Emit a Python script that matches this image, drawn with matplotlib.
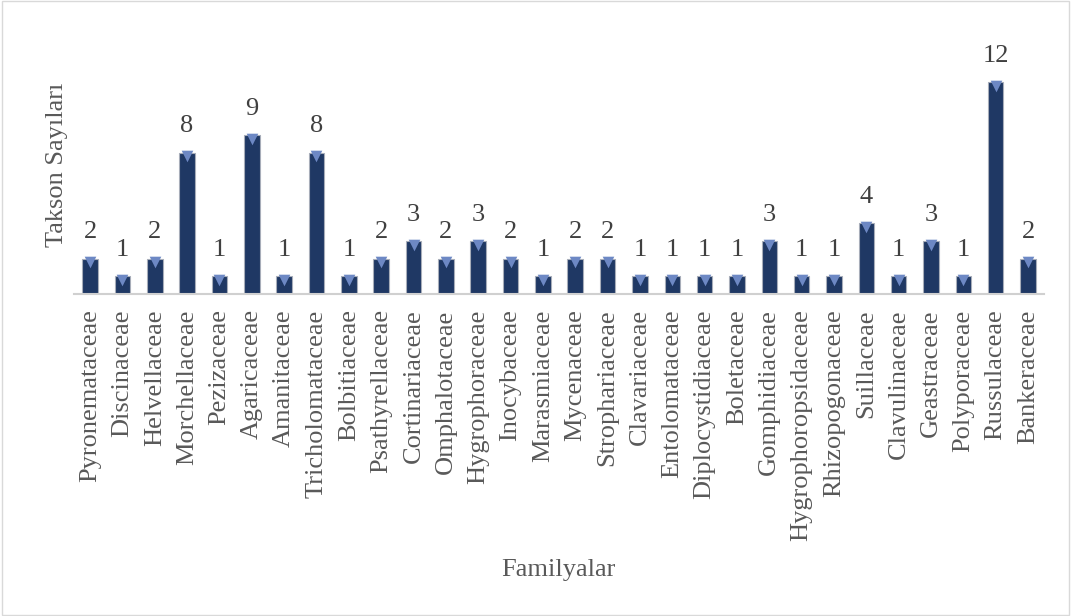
"""Takson sayilari by familya - bar chart recreation."""

import matplotlib.pyplot as plt
import numpy as np

families = [
    "Pyronemataceae", "Discinaceae", "Helvellaceae", "Morchellaceae", "Pezizaceae",
    "Agaricaceae", "Amanitaceae", "Tricholomataceae", "Bolbitiaceae", "Psathyrellaceae",
    "Cortinariaceae", "Omphalotaceae", "Hygrophoraceae", "Inocybaceae", "Marasmiaceae",
    "Mycenaceae", "Strophariaceae", "Clavariaceae", "Entolomataceae", "Diplocystidiaceae",
    "Boletaceae", "Gomphidiaceae", "Hygrophoropsidaceae", "Rhizopogonaceae", "Suillaceae",
    "Clavulinaceae", "Geastraceae", "Polyporaceae", "Russulaceae", "Bankeraceae",
]
counts = [2, 1, 2, 8, 1, 9, 1, 8, 1, 2, 3, 2, 3, 2, 1, 2, 2, 1, 1, 1, 1, 3, 1, 1, 4, 1, 3, 1, 12, 2]

plt.rcParams["font.family"] = ["Liberation Serif", "DejaVu Serif"]
FS = 19

fig = plt.figure(figsize=(10.71, 6.16), dpi=100)
ax = fig.add_axes([0.069, 0.5227, 0.906, 0.4013])

x = np.arange(len(families))
ax.bar(x, counts, width=0.48, color="#1f3864", edgecolor="#a7adb9", linewidth=0.8, zorder=2)
# bevel highlight at the top of each bar
ax.scatter(x, np.array(counts) - 0.2, marker="v", s=70, color="#6d88c4", zorder=3, linewidths=0)

for xi, c in zip(x, counts):
    ax.annotate(str(c), (xi, c), xytext=(0, 11), textcoords="offset points",
                ha="center", va="bottom", fontsize=FS, color="#404040", annotation_clip=False)

ax.set_xlim(-0.5, len(families) - 0.5)
ax.set_ylim(0, 14)
ax.set_xticks(x)
ax.set_xticklabels(families, rotation=90, fontsize=FS, color="#595959")
ax.tick_params(axis="x", length=0, pad=11)
ax.set_yticks([])
for side in ["top", "right", "left"]:
    ax.spines[side].set_visible(False)
ax.spines["bottom"].set_color("#d0d0d0")
ax.spines["bottom"].set_linewidth(1.5)

fig.text(0.053, 0.732, "Takson Sayıları", rotation=90, ha="center", va="center",
         fontsize=FS, color="#595959")
fig.text(0.521, 0.075, "Familyalar", ha="center", va="center", fontsize=FS, color="#595959")

# light frame around the whole chart
fig.patches.append(plt.Rectangle((0.002, 0.002), 0.996, 0.996, transform=fig.transFigure,
                                 fill=False, edgecolor="#d9d9d9", linewidth=1))

fig.savefig("out.png", dpi=100)
